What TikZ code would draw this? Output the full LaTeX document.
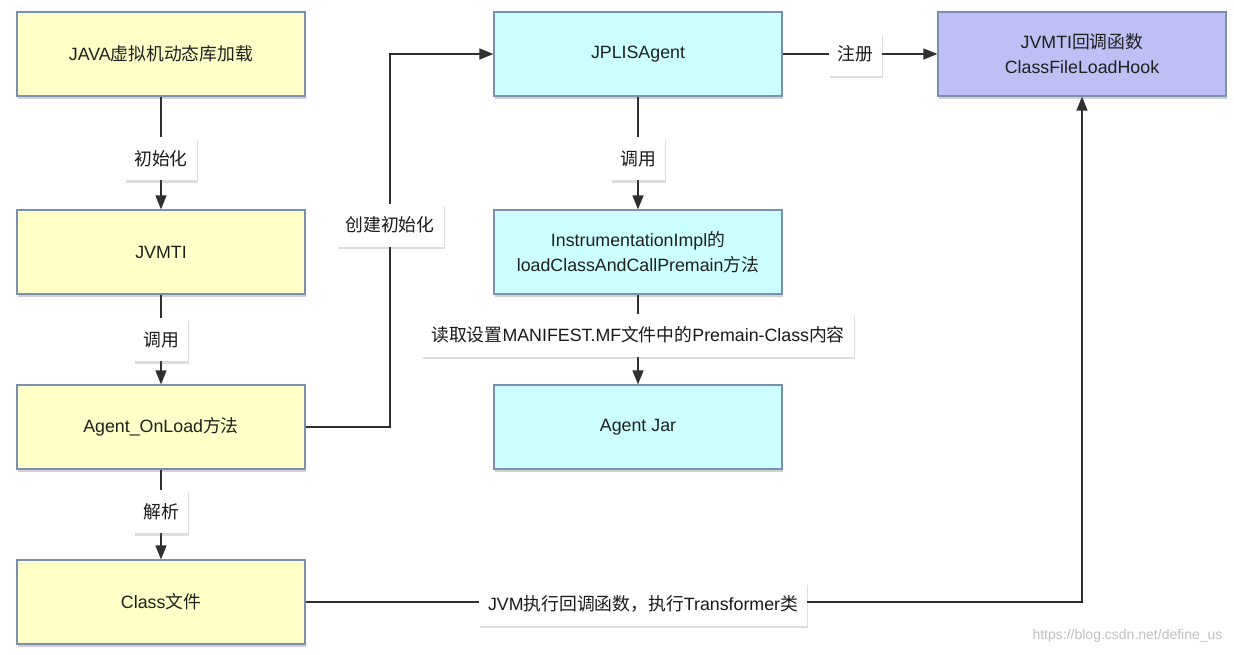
\documentclass[tikz,border=0pt]{standalone}
\usepackage{fontspec}
\setmainfont{Liberation Sans}
\newfontfamily\cjk{Noto Sans CJK SC}
\usetikzlibrary{arrows.meta,shadows}
\definecolor{yel}{HTML}{FFFFC8}
\definecolor{cya}{HTML}{CCFFFF}
\definecolor{pur}{HTML}{BEC0F5}
\definecolor{bord}{HTML}{7990B0}
\definecolor{lin}{HTML}{303030}
\tikzset{
  box/.style={draw=bord, line width=1.2pt, minimum width=288pt, minimum height=84pt,
    align=center, font=\fontsize{17.8}{25}\selectfont, text=black!88,
    drop shadow={shadow xshift=1pt, shadow yshift=-2.5pt, opacity=0.3, fill=black!60}},
  ybox/.style={box, fill=yel},
  cbox/.style={box, fill=cya},
  pbox/.style={box, fill=pur},
  lab/.style={fill=white, inner xsep=9pt, minimum height=43pt, font=\fontsize{17.8}{21}\selectfont,
    text=black!90, drop shadow={shadow xshift=1pt, shadow yshift=-2.5pt, opacity=0.22, fill=black!60}},
  conn/.style={draw=lin, line width=1.4pt, -{Triangle[length=14pt,width=11pt]}}
}
\begin{document}
\begin{tikzpicture}[x=1pt,y=-1pt]
\useasboundingbox (0,0) rectangle (1234,654);
\node[ybox] (A) at (161,54) {JAVA{\cjk 虚拟机动态库加载}};
\node[ybox] (B) at (161,252) {JVMTI};
\node[ybox] (C) at (161,427) {Agent\_OnLoad{\cjk 方法}};
\node[ybox] (D) at (161,602) {Class{\cjk 文件}};
\node[cbox] (E) at (638,54) {JPLISAgent};
\node[cbox] (F) at (638,252) {InstrumentationImpl{\cjk 的}\\loadClassAndCallPremain{\cjk 方法}};
\node[cbox] (G) at (638,427) {Agent Jar};
\node[pbox] (H) at (1082,54) {JVMTI{\cjk 回调函数}\\ClassFileLoadHook};
\coordinate (k1) at (390,427);
\draw[conn] (A) -- node[lab, pos=0.55] {\cjk 初始化} (B);
\draw[conn] (B) -- node[lab] {\cjk 调用} (C);
\draw[conn] (C) -- node[lab, pos=0.47] {\cjk 解析} (D);
\draw[conn] (E) -- node[lab, pos=0.55] {\cjk 调用} (F);
\draw[conn] (F) -- node[lab, pos=0.45] {{\cjk 读取设置}MANIFEST.MF{\cjk 文件中的}Premain-Class{\cjk 内容}} (G);
\draw[conn] (E) -- node[lab, pos=0.47] {\cjk 注册} (H);
\draw[conn] (C.east) -- (k1) |- (E.west);
\node[lab] (L1) at (390,225) {\cjk 创建初始化};
\coordinate (k2) at (H.south |- D.east);
\draw[conn] (D.east) -- (k2) -- (H.south);
\node[lab] (L2) at (643,604) {JVM{\cjk 执行回调函数，执行}Transformer{\cjk 类}};
\node[text=black!25, font=\fontsize{14}{16}\selectfont, anchor=east] (W) at (1226,636) {https://blog.csdn.net/define\_us};
\end{tikzpicture}
\end{document}
